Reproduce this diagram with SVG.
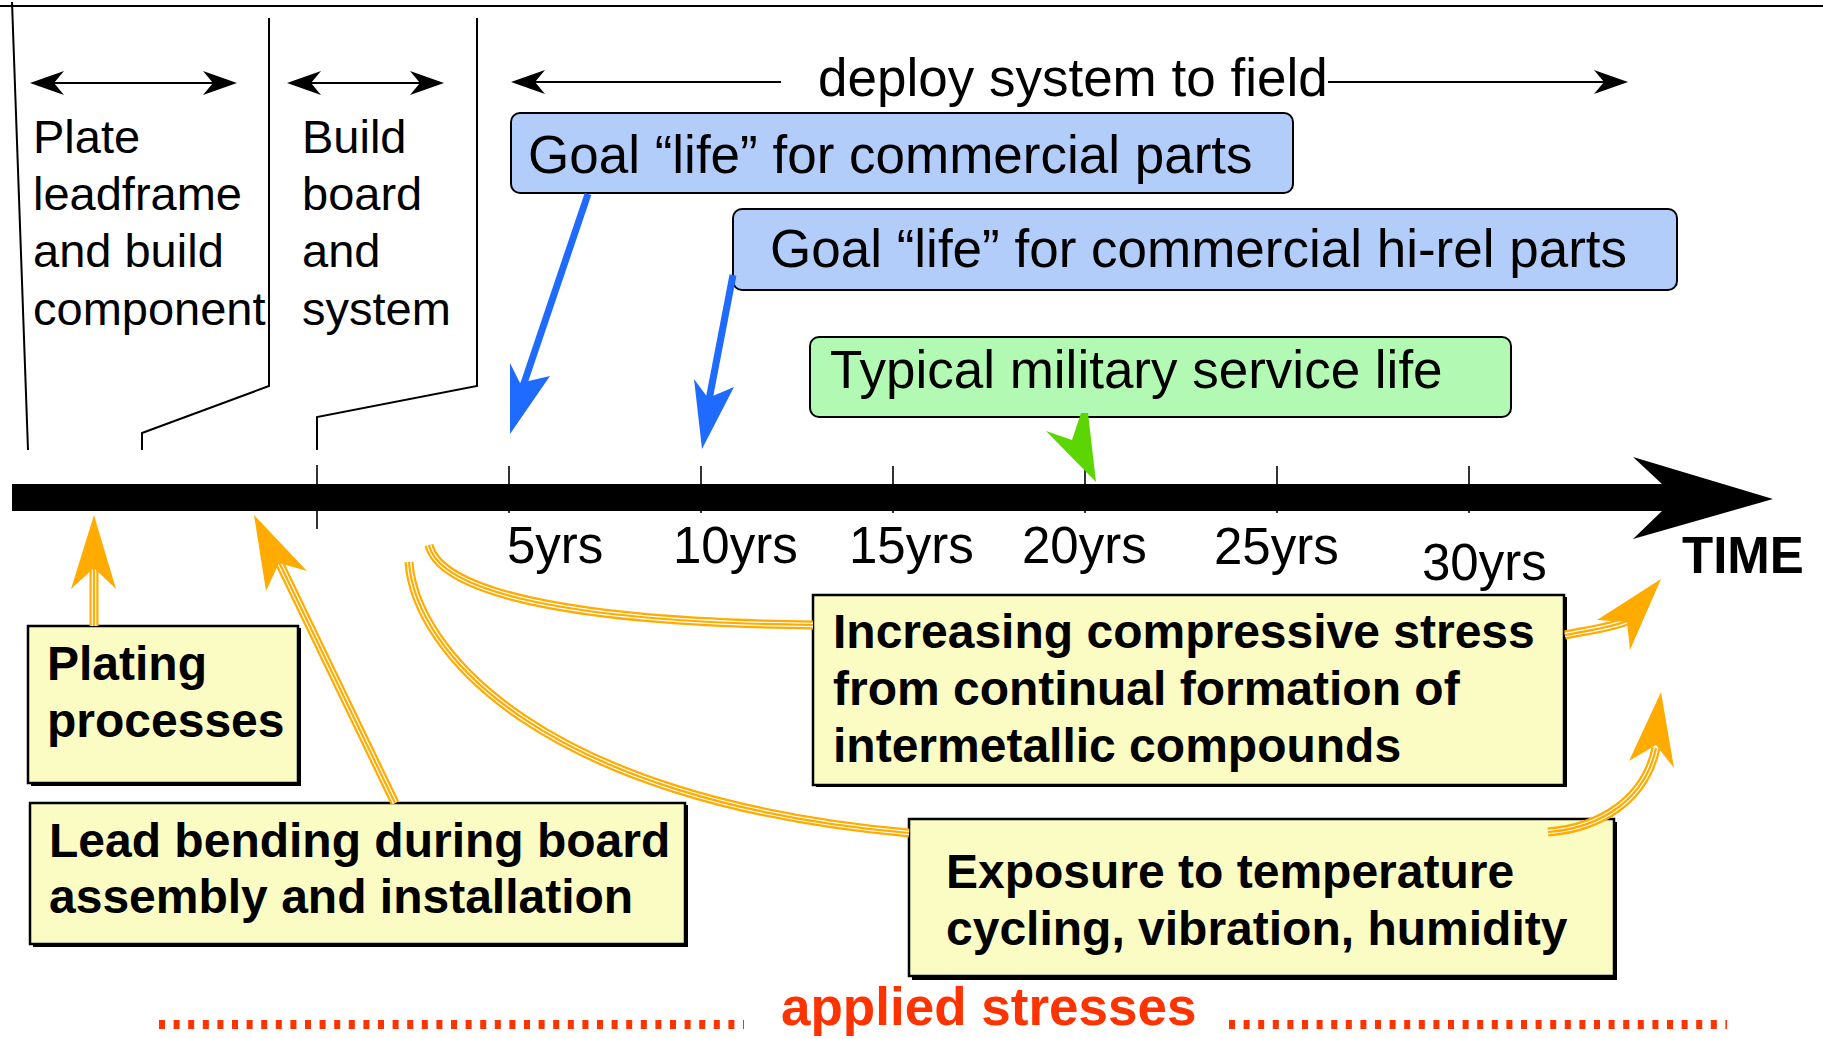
<svg xmlns="http://www.w3.org/2000/svg" width="1823" height="1039" viewBox="0 0 1823 1039">
<style>
  .t { font-family: "Liberation Sans", Arial, sans-serif; fill: #000; }
  .lbl { font-size: 47px; }
  .big { font-size: 53px; }
  .yr { font-size: 51px; }
  .bold { font-size: 48px; font-weight: bold; }
  .ln { stroke: #000; stroke-width: 2; fill: none; }
  .tick { stroke: #000; stroke-width: 1.6; }
  .blue { fill: #b3cdfb; stroke: #000; stroke-width: 2; }
  .green { fill: #b2f9b4; stroke: #000; stroke-width: 2; }
  .yel { fill: #fbfbc4; stroke: #000; stroke-width: 2.5; }
  .shadow { fill: #000; }
  .o1 { stroke: #ffab00; stroke-width: 9; fill: none; }
  .o2 { stroke: #fff; stroke-width: 4.6; fill: none; }
  .o3 { stroke: #ffab00; stroke-width: 2.2; fill: none; }
  .ohead { fill: #ffab00; }
  .bshaft { stroke: #1f6bff; stroke-width: 7; fill: none; }
  .bhead { fill: #1f6bff; }
</style>

<!-- top border line and phase brackets -->
<g id="frame">
  <line class="ln" x1="0" y1="6" x2="1823" y2="6"/>
  <line class="ln" x1="12" y1="2" x2="28" y2="450"/>
  <polyline class="ln" points="269,18 269,386 142,433 142,450"/>
  <polyline class="ln" points="477,18 477,386 317,417 317,450"/>
</g>

<g id="phase-arrows">
  <line class="ln" x1="45" y1="83" x2="222" y2="83"/>
  <path d="M30,83 L64,71 L54,83 L64,95 Z"/>
  <path d="M237,83 L203,71 L213,83 L203,95 Z"/>
  <line class="ln" x1="302" y1="83" x2="429" y2="83"/>
  <path d="M287,83 L321,71 L311,83 L321,95 Z"/>
  <path d="M444,83 L410,71 L420,83 L410,95 Z"/>
  <line class="ln" x1="525" y1="82" x2="781" y2="82"/>
  <path d="M511,82 L545,70 L535,82 L545,94 Z"/>
  <line class="ln" x1="1328" y1="82" x2="1613" y2="82"/>
  <path d="M1628,82 L1594,70 L1604,82 L1594,94 Z"/>
</g>

<g id="phase-labels">
  <text class="t lbl" x="33" y="153">Plate</text>
  <text class="t lbl" x="33" y="210">leadframe</text>
  <text class="t lbl" x="33" y="267">and build</text>
  <text class="t lbl" x="33" y="325">component</text>
  <text class="t lbl" x="302" y="153">Build</text>
  <text class="t lbl" x="302" y="210">board</text>
  <text class="t lbl" x="302" y="267">and</text>
  <text class="t lbl" x="302" y="325">system</text>
  <text class="t big" x="818" y="96">deploy system to field</text>
</g>

<!-- timeline -->
<g id="timeline">
  <path d="M12,484 L1662,484 L1633,457 L1773,499 L1633,539 L1662,511 L12,511 Z" fill="#000"/>
  <line class="tick" x1="317" y1="465" x2="317" y2="529"/>
  <line class="tick" x1="509" y1="466" x2="509" y2="513"/>
  <line class="tick" x1="701" y1="466" x2="701" y2="513"/>
  <line class="tick" x1="893" y1="466" x2="893" y2="513"/>
  <line class="tick" x1="1085" y1="466" x2="1085" y2="513"/>
  <line class="tick" x1="1277" y1="466" x2="1277" y2="513"/>
  <line class="tick" x1="1469" y1="466" x2="1469" y2="513"/>
  <text class="t yr" x="507" y="563">5yrs</text>
  <text class="t yr" x="673" y="563">10yrs</text>
  <text class="t yr" x="849" y="563">15yrs</text>
  <text class="t yr" x="1022" y="563">20yrs</text>
  <text class="t yr" x="1214" y="564">25yrs</text>
  <text class="t yr" x="1422" y="580">30yrs</text>
  <text class="t" x="1682" y="573" font-size="51" font-weight="bold">TIME</text>
</g>

<!-- life boxes -->
<g id="goal-commercial">
  <rect class="blue" x="511" y="113" width="782" height="80" rx="9"/>
  <text class="t big" x="528" y="173">Goal “life” for commercial parts</text>
</g>
<g id="goal-hirel">
  <rect class="blue" x="733" y="209" width="944" height="81" rx="9"/>
  <text class="t big" x="770" y="267">Goal “life” for commercial hi-rel parts</text>
</g>
<g id="military">
  <rect class="green" x="810" y="337" width="701" height="80" rx="9"/>
  <text class="t big" x="830" y="388">Typical military service life</text>
</g>

<!-- stress boxes -->
<g id="plating">
  <rect class="shadow" x="31" y="628" width="270" height="158"/>
  <rect class="yel" x="28" y="626" width="270" height="157"/>
  <text class="t bold" x="47" y="680">Plating</text>
  <text class="t bold" x="47" y="737">processes</text>
</g>
<g id="lead-bending">
  <rect class="shadow" x="33" y="805" width="655" height="142"/>
  <rect class="yel" x="30" y="803" width="655" height="141"/>
  <text class="t bold" x="49" y="857">Lead bending during board</text>
  <text class="t bold" x="49" y="913">assembly and installation</text>
</g>
<g id="intermetallic">
  <rect class="shadow" x="816" y="597" width="751" height="190"/>
  <rect class="yel" x="813" y="595" width="751" height="190"/>
  <text class="t bold" x="833" y="648">Increasing compressive stress</text>
  <text class="t bold" x="833" y="705">from continual formation of</text>
  <text class="t bold" x="833" y="762">intermetallic compounds</text>
</g>
<g id="exposure">
  <rect class="shadow" x="912" y="822" width="705" height="158"/>
  <rect class="yel" x="909" y="819" width="705" height="157"/>
  <text class="t bold" x="946" y="888">Exposure to temperature</text>
  <text class="t bold" x="946" y="945">cycling, vibration, humidity</text>
</g>

<!-- connectors -->
<g id="connectors">
  <!-- blue goal arrows -->
  <line class="bshaft" x1="588" y1="194" x2="521" y2="392"/>
  <path class="bhead" d="M510,434 L510,363 L520,383 L550,376 Z"/>
  <line class="bshaft" x1="733" y1="275" x2="708" y2="405"/>
  <path class="bhead" d="M702,449 L694,379 L708,398 L734,387 Z"/>
  <!-- green military arrow -->
  <path d="M1081,413 L1088,413 L1096,482 L1046,431 L1072,440 Z" fill="#5cd600"/>

  <!-- orange stress arrows -->
  <path class="o1" d="M94,626 L94,566"/>
  <path class="o2" d="M94,626 L94,566"/>
  <path class="o3" d="M94,626 L94,566"/>
  <path class="ohead" d="M94,515 L116,589 L94,568 L71,589 Z"/>

  <path class="o1" d="M395,803 L277,558"/>
  <path class="o2" d="M395,803 L277,558"/>
  <path class="o3" d="M395,803 L277,558"/>
  <path class="ohead" d="M254,515 L307,571 L279,563 L266,591 Z"/>

  <path class="o1" d="M429,545 C440,590 560,622 813,625"/>
  <path class="o2" d="M429,545 C440,590 560,622 813,625"/>
  <path class="o3" d="M429,545 C440,590 560,622 813,625"/>

  <path class="o1" d="M409,562 C415,650 540,800 909,833"/>
  <path class="o2" d="M409,562 C415,650 540,800 909,833"/>
  <path class="o3" d="M409,562 C415,650 540,800 909,833"/>

  <path class="o1" d="M1565,635 C1590,630 1610,628 1630,620"/>
  <path class="o2" d="M1565,635 C1590,630 1610,628 1630,620"/>
  <path class="o3" d="M1565,635 C1590,630 1610,628 1630,620"/>
  <path class="ohead" d="M1661,579 L1630,650 L1627,622 L1597,620 Z"/>

  <path class="o1" d="M1548,832 C1600,828 1645,800 1656,748"/>
  <path class="o2" d="M1548,832 C1600,828 1645,800 1656,748"/>
  <path class="o3" d="M1548,832 C1600,828 1645,800 1656,748"/>
  <path class="ohead" d="M1661,692 L1674,768 L1656,745 L1629,761 Z"/>
</g>

<!-- applied stresses legend -->
<g id="applied-stresses">
  <line x1="159" y1="1024.5" x2="744" y2="1024.5" stroke="#ff3300" stroke-width="9" stroke-dasharray="6 8.6"/>
  <line x1="1229" y1="1024.5" x2="1727" y2="1024.5" stroke="#ff3300" stroke-width="9" stroke-dasharray="6 8.6"/>
  <text class="t" x="781" y="1025" font-size="53" font-weight="bold" style="fill:#ff3300">applied stresses</text>
</g>
</svg>
